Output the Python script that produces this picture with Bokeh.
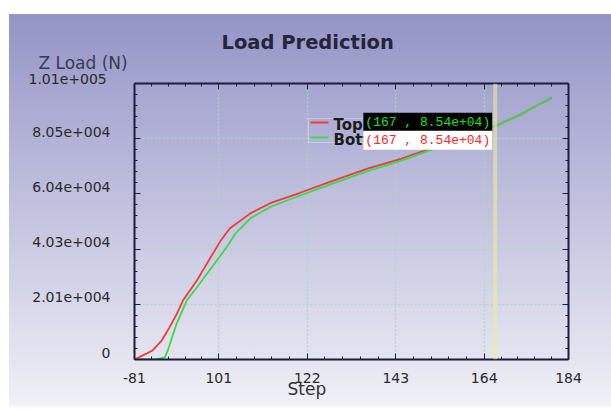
import numpy as np
from bokeh.plotting import figure
from bokeh.models import (Range1d, FixedTicker, LinearAxis, Label, Span, BoxAnnotation, Title)
from bokeh.embed import file_html
from bokeh.resources import INLINE

# ---- data ----
top_step = [81, 83, 85.3, 87.5, 89.3, 91, 92.5, 95.8, 99.6, 101.3, 103.6, 108.4, 113.2, 120.3,
            128.2, 136.3, 144.2, 156, 167, 172.8, 180]
top_load = [0, 1500, 3300, 7000, 11700, 16500, 21500, 28800, 38600, 43000, 47800, 53200, 57000, 60800,
            65200, 69600, 73200, 79500, 85400, 89500, 95500]
bot_step = [81, 86, 88.2, 88.9, 91, 93.4, 96.5, 100.5, 102.9, 105, 108.5, 113.2, 120.3,
            128.2, 136.3, 144.2, 156, 167, 172.8, 180]
bot_load = [0, 0, 800, 3300, 13100, 21500, 27700, 36000, 41000, 46000, 51500, 55600, 59800,
            64200, 68700, 72400, 79000, 85400, 89500, 95500]
series_names = ["Top", "Bottom"]
series_colors = ["#f03a3a", "#3ada4a"]
x_ticks = [81, 101, 122, 143, 164, 184]
x_tick_labels = ["-81", "101", "122", "143", "164", "184"]
y_ticks = [0, 20130, 40260, 60390, 80520, 100650]
y_tick_labels = ["0", "2.01e+004", "4.03e+004", "6.04e+004", "8.05e+004", "1.01e+005"]
cursor_step = 166.6
cursor_text = "(167 , 8.54e+04)"
cursor_load = 85400

W, H = 611, 412
FRAME_H = 412 - 83 - 53
p = figure(width=W, height=H, output_backend="svg", toolbar_location=None,
           x_range=Range1d(x_ticks[0], x_ticks[-1]), y_range=Range1d(y_ticks[0], y_ticks[-1]),
           min_border_left=134, min_border_right=43, min_border_top=83, min_border_bottom=53,
           x_axis_location=None, y_axis_location=None)
p.background_fill_color = None
p.border_fill_color = None
p.outline_line_color = None
p.styles = {"background": "linear-gradient(to right, #ffffff 9px, rgba(255,255,255,0) 9px), "
                          "linear-gradient(to bottom, #ffffff 0px, #ffffff 14px, #9494c6 14px, "
                          "#b0b0d6 130px, #d0d0e6 270px, #f0f0f6 405px, #ffffff 408px)"}

def minors(ticks, n):
    out = []
    for a, b in zip(ticks[:-1], ticks[1:]):
        out += list(np.linspace(a, b, n + 1)[1:-1])
    return out

xt = FixedTicker(ticks=x_ticks, minor_ticks=minors(x_ticks, 5))
yt = FixedTicker(ticks=y_ticks, minor_ticks=minors(y_ticks, 5))
axis_col = "#1c1c3c"
tick_font = dict(major_label_text_font="DejaVu Sans", major_label_text_font_size="14px",
                 major_label_text_color="#2a2a2a")

def style_axis(ax, labels):
    ax.axis_line_color = axis_col
    ax.axis_line_width = 2
    ax.major_tick_line_color = axis_col
    ax.minor_tick_line_color = axis_col
    ax.major_tick_in = 6
    ax.major_tick_out = 0
    ax.minor_tick_in = 3
    ax.minor_tick_out = 0
    ax.major_label_text_font = "DejaVu Sans"
    ax.major_label_text_font_size = "14px" if labels else "0px"
    ax.major_label_text_color = "#2a2a2a"

xb = LinearAxis(ticker=xt, major_label_overrides={t: s for t, s in zip(x_ticks, x_tick_labels)},
                major_label_standoff=13)
style_axis(xb, True)
yl = LinearAxis(ticker=yt, major_label_standoff=0)
style_axis(yl, False)
xtp = LinearAxis(ticker=xt, major_label_standoff=0)
style_axis(xtp, False)
yrt = LinearAxis(ticker=yt, major_label_standoff=0)
style_axis(yrt, False)
p.add_layout(xb, "below")
p.add_layout(yl, "left")
p.add_layout(xtp, "above")
p.add_layout(yrt, "right")

# y tick labels sit ~7px above their ticks in the original: label-only axis on a shifted range
shift = 7 * (y_ticks[-1] - y_ticks[0]) / FRAME_H
p.extra_y_ranges = {"lab": Range1d(y_ticks[0] - shift, y_ticks[-1] - shift)}
ylab = LinearAxis(y_range_name="lab", ticker=FixedTicker(ticks=y_ticks[:-1]),
                  major_label_overrides={t: s for t, s in zip(y_ticks, y_tick_labels)},
                  major_label_standoff=18, axis_line_color=None, major_tick_line_color=None,
                  minor_tick_line_color=None, **tick_font)
p.add_layout(ylab, "left")

# texts outside the frame (stacked upward from the frame)
p.add_layout(Title(text=y_tick_labels[-1], align="left", offset=-106, standoff=0,
                   text_font="DejaVu Sans", text_font_size="14px", text_font_style="normal",
                   text_color="#2a2a2a"), "above")
p.add_layout(Title(text="Z Load (N)", align="left", offset=-96, standoff=-3,
                   text_font="DejaVu Sans", text_font_size="17px", text_font_style="normal",
                   text_color="#3a3a55"), "above")
p.add_layout(Title(text="Step", align="left", offset=153, standoff=-18,
                   text_font="DejaVu Sans", text_font_size="17px", text_font_style="normal",
                   text_color="#333333"), "below")
p.title.text = "Load Prediction"
p.title.align = "left"
p.title.offset = 87
p.title.standoff = -3
p.title.text_font = "DejaVu Sans"
p.title.text_font_style = "bold"
p.title.text_font_size = "19.5px"
p.title.text_color = "#24243a"

p.xgrid.ticker = xt
p.ygrid.ticker = yt
for g in (p.xgrid, p.ygrid):
    g.grid_line_color = "#b4d2c8"
    g.grid_line_width = 1.5
    g.grid_line_dash = "2 2"
    g.grid_line_alpha = 0.9

p.line(top_step, top_load, line_color=series_colors[0], line_width=1.8)
p.line(bot_step, bot_load, line_color=series_colors[1], line_width=1.8)

p.add_layout(Span(location=cursor_step, dimension="height", line_color="#ecec9c",
                  line_width=4, line_alpha=0.6))

# legend: white frame, colour samples and bold names (partly hidden by the cursor readout)
p.add_layout(BoxAnnotation(left=174, right=246, bottom=217, top=241,
                           left_units="screen", right_units="screen",
                           bottom_units="screen", top_units="screen",
                           fill_alpha=0, line_color="white", line_width=1))
for i, (name, col) in enumerate(zip(series_names, series_colors)):
    yc = 237 - 15 * i
    p.add_layout(BoxAnnotation(left=176, right=194, bottom=yc - 1, top=yc + 1,
                               left_units="screen", right_units="screen",
                               bottom_units="screen", top_units="screen",
                               fill_color=col, fill_alpha=1, line_alpha=0))
    p.add_layout(Label(x=199, y=yc - 2, x_units="screen", y_units="screen", text=name,
                       text_font="DejaVu Sans", text_font_style="bold", text_font_size="15px",
                       text_color="#1a1a1a", text_baseline="middle"))

common = dict(x=cursor_step, y=cursor_load, x_units="data", y_units="data", text=cursor_text,
              text_font="Liberation Mono", text_font_size="13px", text_align="right",
              text_baseline="middle", x_offset=-3, padding=2, level="overlay")
p.add_layout(Label(**common, y_offset=3, text_color="#1ee01e", background_fill_color="black"))
p.add_layout(Label(**common, y_offset=-15, text_color="#ff2222", background_fill_color="white"))

open("out.html", "w").write(file_html(p, INLINE))
